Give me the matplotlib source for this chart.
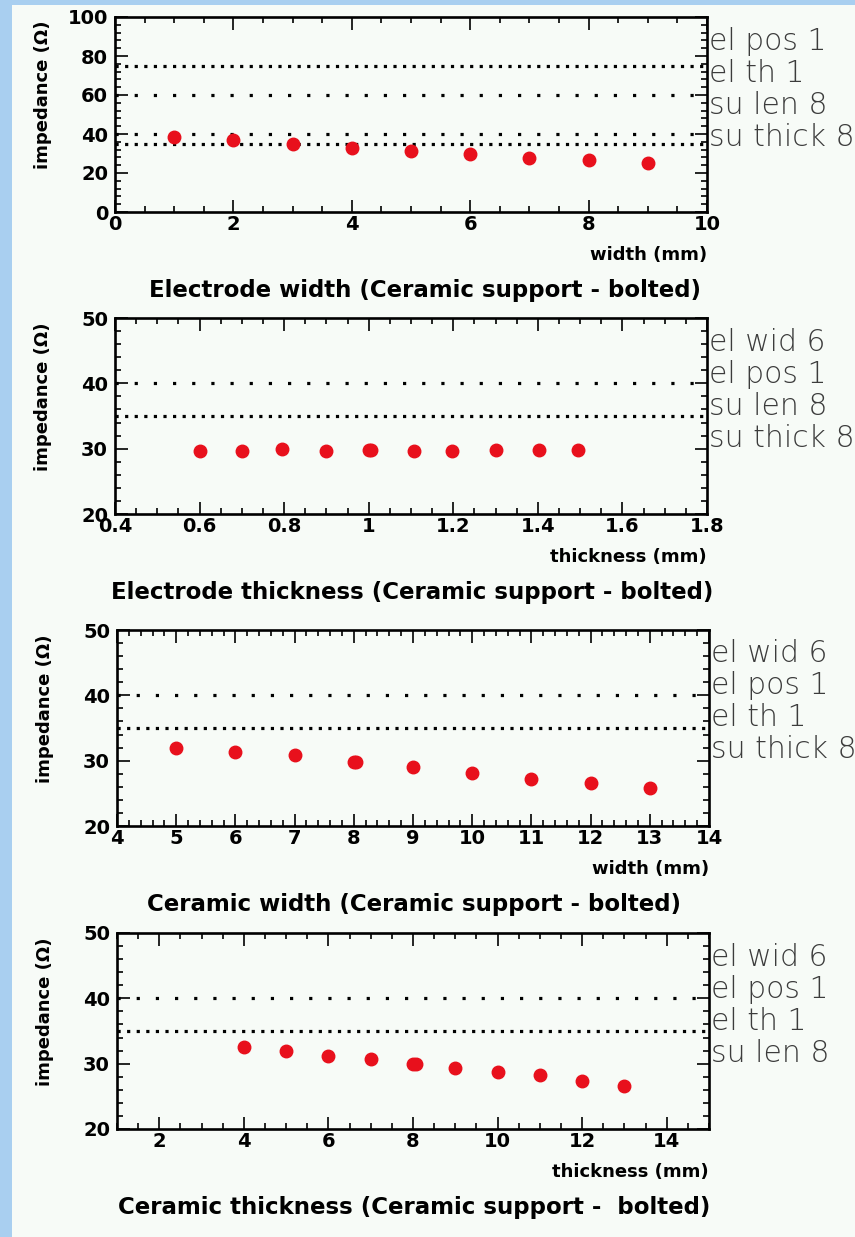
import matplotlib.pyplot as plt
from matplotlib.ticker import MultipleLocator, FuncFormatter
from matplotlib.patches import Rectangle

W, H = 855, 1237
BG = "#f7fbf7"
SKY = "#a9cff0"
RED = "#e8101c"
LABEL_GREY = "#3c3c3c"

# electrode width scan
el_wid_x = [1, 2, 3, 4, 5, 6, 7, 8, 9]
el_wid_z = [38.6, 36.9, 34.9, 33.0, 31.3, 29.6, 27.9, 26.7, 25.3]

# electrode thickness scan
el_th_x = [0.6, 0.7, 0.795, 0.9, 1.0, 1.006, 1.107, 1.196, 1.3, 1.402, 1.495]
el_th_z = [29.6, 29.7, 29.9, 29.7, 29.8, 29.8, 29.7, 29.7, 29.8, 29.8, 29.8]

# ceramic width scan
ce_wid_x = [5, 6, 7, 8, 8.03, 9, 10, 11, 12, 13]
ce_wid_z = [31.9, 31.4, 30.8, 29.8, 29.8, 29.0, 28.1, 27.2, 26.6, 25.8]

# ceramic thickness scan
ce_th_x = [4, 5, 6, 7, 8, 8.07, 9, 10, 11, 12, 13]
ce_th_z = [32.5, 31.9, 31.2, 30.7, 29.95, 29.95, 29.3, 28.7, 28.2, 27.35, 26.6]

# reference lines: (value, style)
ref_lines_1 = [(75, "dense"), (60, "sparse"), (40, "sparse"), (35, "dense")]
ref_lines_2 = [(40, "sparse"), (35, "dense")]

# side labels
side_1 = ["el pos 1", "el th 1", "su len 8", "su thick 8"]
side_2 = ["el wid 6", "el pos 1", "su len 8", "su thick 8"]
side_3 = ["el wid 6", "el pos 1", "el th 1", "su thick 8"]
side_4 = ["el wid 6", "el pos 1", "el th 1", "su len 8"]

titles = [
    "Electrode width (Ceramic support - bolted)",
    "Electrode thickness (Ceramic support - bolted)",
    "Ceramic width (Ceramic support - bolted)",
    "Ceramic thickness (Ceramic support -  bolted)",
]
xlabels = ["width (mm)", "thickness (mm)", "width (mm)", "thickness (mm)"]

fig = plt.figure(figsize=(W / 100, H / 100), dpi=100)
fig.patch.set_facecolor(BG)

# blue strips of the slide background
fig.patches.append(Rectangle((0, 0), 12 / W, 1, transform=fig.transFigure,
                             facecolor=SKY, edgecolor="none", zorder=0))
fig.patches.append(Rectangle((0, 1 - 5 / H), 1, 5 / H, transform=fig.transFigure,
                             facecolor=SKY, edgecolor="none", zorder=0))

DASH = {"dense": (0, (1, 2)), "sparse": (0, (1, 5))}
fmt = FuncFormatter(lambda v, p: "%g" % round(v, 3))


def panel(rect, xs, ys, xlim, ylim, xmaj, xmin, ymaj, ymin, refs, side, title, xlabel,
          title_dx=0):
    l, t, r, b = rect
    ax = fig.add_axes([l / W, 1 - b / H, (r - l) / W, (b - t) / H])
    ax.set_facecolor(BG)
    for val, st in refs:
        ax.axhline(val, color="black", lw=2.3, linestyle=DASH[st], zorder=2)
    ax.plot(xs, ys, "o", color=RED, ms=9, zorder=3)
    ax.set_xlim(*xlim)
    ax.set_ylim(*ylim)
    ax.xaxis.set_major_locator(MultipleLocator(xmaj))
    ax.xaxis.set_minor_locator(MultipleLocator(xmin))
    ax.yaxis.set_major_locator(MultipleLocator(ymaj))
    ax.yaxis.set_minor_locator(MultipleLocator(ymin))
    ax.xaxis.set_major_formatter(fmt)
    ax.yaxis.set_major_formatter(fmt)
    for s in ax.spines.values():
        s.set_linewidth(1.9)
    ax.tick_params(which="both", direction="in", top=True, right=True, width=1.2)
    ax.tick_params(which="major", length=9, labelsize=14)
    ax.tick_params(which="minor", length=4)
    ax.tick_params(axis="x", pad=2)
    ax.tick_params(axis="y", pad=5)
    for lab in ax.get_xticklabels() + ax.get_yticklabels():
        lab.set_fontweight("bold")

    ax.set_ylabel("impedance (Ω)", fontsize=13, fontweight="bold")
    ax.yaxis.set_label_coords(-0.107, 0.6)
    ax.set_xlabel(xlabel, fontsize=13, fontweight="bold", loc="right")
    ax.xaxis.set_label_coords(1.0, -0.175)

    h = b - t
    for i, txt in enumerate(side):
        ax.text(1.003, 1 - (24 + 32 * i) / h, txt, transform=ax.transAxes,
                ha="left", va="center", fontsize=21.5, color=LABEL_GREY,
                fontweight="light", clip_on=False)

    ax.text(0.5 + title_dx / (r - l), -0.4, title, transform=ax.transAxes,
            ha="center", va="center", fontsize=16.5, fontweight="bold")
    return ax


panel((115, 17, 707, 212), el_wid_x, el_wid_z, (0, 10), (0, 100), 2, 0.5, 20, 4,
      ref_lines_1, side_1, titles[0], xlabels[0], title_dx=14)
panel((115, 318, 707, 514), el_th_x, el_th_z, (0.4, 1.8), (20, 50), 0.2, 0.05, 10, 2,
      ref_lines_2, side_2, titles[1], xlabels[1], title_dx=1)
panel((117, 630, 709, 826), ce_wid_x, ce_wid_z, (4, 14), (20, 50), 1, 0.2, 10, 2,
      ref_lines_2, side_3, titles[2], xlabels[2], title_dx=1)
panel((117, 933, 709, 1129), ce_th_x, ce_th_z, (1, 15), (20, 50), 2, 0.5, 10, 2,
      ref_lines_2, side_4, titles[3], xlabels[3], title_dx=1)

fig.savefig("out.png", dpi=100, facecolor=fig.get_facecolor())
